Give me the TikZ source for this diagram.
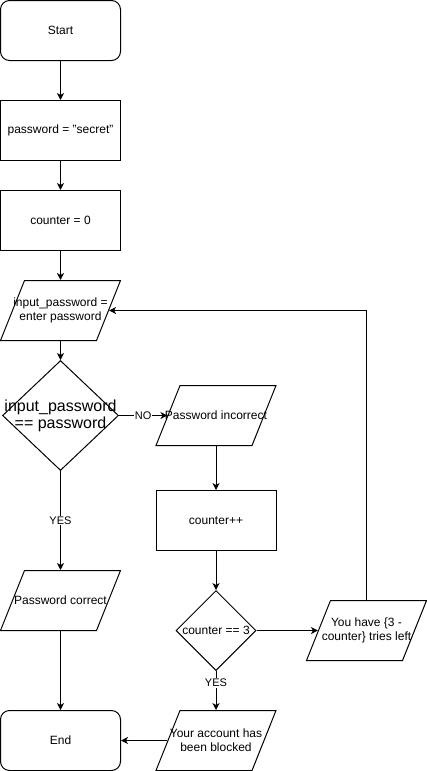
\documentclass[tikz,border=0pt]{standalone}
\usepackage{fontspec}
\setmainfont{Liberation Sans}
\usetikzlibrary{shapes.geometric,arrows.meta}
\begin{document}
\begin{tikzpicture}[x=1pt,y=-1pt,
  every node/.style={font=\fontsize{12}{14}\selectfont},
  base/.style={draw,line width=1pt,inner sep=0pt,minimum width=120pt,minimum height=60pt},
  term/.style={base,rectangle,rounded corners=9pt},
  proc/.style={base,rectangle},
  io/.style={base,inner sep=1pt,trapezium,trapezium left angle=71.57,trapezium right angle=108.43,trapezium stretches=true},
  dec/.style={draw,line width=1pt,diamond,inner sep=1pt},
  txt/.style={align=center,font=\fontsize{12}{14}\selectfont},
  conn/.style={line width=1pt,-{Stealth[length=7pt,width=7pt,inset=2pt]}},
  lbl/.style={fill=white,inner sep=1pt,font=\fontsize{11}{13}\selectfont}]
\useasboundingbox (0,0) rectangle (427,771);
\node[term] (start) at (60.5,30.5) {Start};
\node[proc] (pw) at (60.5,130.5) {password = "secret"};
\node[proc] (cnt) at (60.5,220.5) {counter = 0};
\node[io,label={[txt]center:input\_password =\\enter password}] (in) at (60.5,310.5) {};
\node[dec,minimum width=116pt,minimum height=110pt,
  label={[align=center,font=\fontsize{16}{17}\selectfont]center:input\_password\\== password}] (d1) at (60.5,415.5) {};
\node[io,label={[txt]center:Password incorrect}] (inc) at (216,415.5) {};
\node[proc] (cpp) at (216,520.5) {counter++};
\node[dec,minimum width=80pt,minimum height=80pt,
  label={[txt]center:counter == 3}] (d2) at (216,630.5) {};
\node[io,label={[txt]center:You have \{3 -\\counter\} tries left}] (tries) at (366.5,630.5) {};
\node[io,label={[txt]center:Password correct}] (pc) at (60.5,600.5) {};
\node[io,label={[txt]center:Your account has\\been blocked}] (blk) at (216,740.5) {};
\node[term] (end) at (60.5,740.5) {End};

\draw[conn] (start) -- (pw);
\draw[conn] (pw) -- (cnt);
\draw[conn] (cnt) -- (in.north -| in.center);
\draw[conn] (in.south -| in.center) -- (d1.north);
\draw[conn] (d1.east) -- node[lbl] {NO} (inc.west);
\draw[conn] (d1.south) -- node[lbl] {YES} (pc.north -| pc.center);
\draw[conn] (pc.south -| pc.center) -- (end.north);
\draw[conn] (inc.south -| inc.center) -- (cpp.north);
\draw[conn] (cpp.south) -- (d2.north);
\draw[conn] (d2.east) -- (tries.west);
\draw[conn] (tries.north -| tries.center) |- (in.east);
\draw[conn] (d2.south) -- node[lbl,pos=0.3] {YES} (blk.north -| blk.center);
\draw[conn] (blk.west) -- (end.east);
\end{tikzpicture}
\end{document}
